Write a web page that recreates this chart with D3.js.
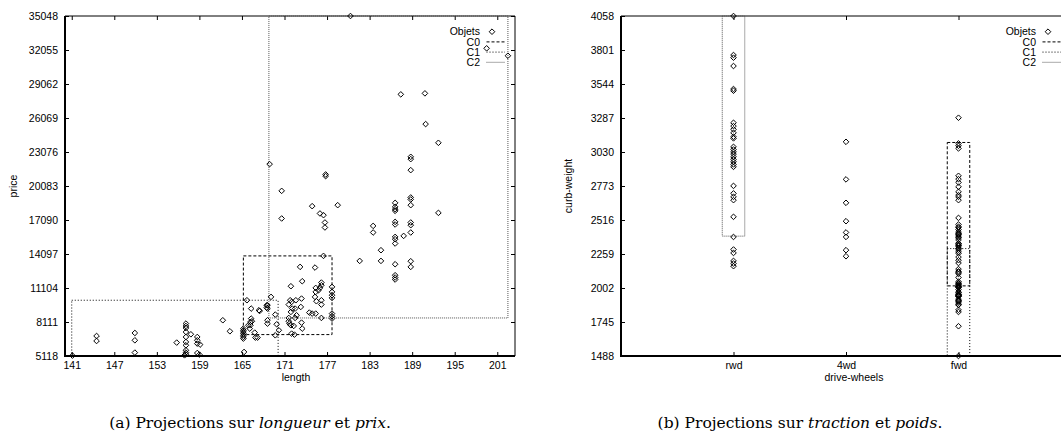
<!DOCTYPE html>
<html>
<head>
<meta charset="utf-8">
<script src="https://cdn.jsdelivr.net/npm/d3@7"></script>
<style>
	body { margin: 0; background: #fff; }
	svg { display: block; }
	.tick text, .label, .legend text { font-family: 'Liberation Sans', Arial, sans-serif; font-size: 10.5px; fill: #000; }
	.caption { font-family: 'DejaVu Serif', serif; font-size: 15.5px; fill: #000; }
</style>
</head>
<body>
<svg id="chart" width="1061" height="445"></svg>
<script>
// ticks
const lengthTicks = [141, 147, 153, 159, 165, 171, 177, 183, 189, 195, 201];
const priceTicks = [5118, 8111, 11104, 14097, 17090, 20083, 23076, 26069, 29062, 32055, 35048];
const weightTicks = [1488, 1745, 2002, 2259, 2516, 2773, 3030, 3287, 3544, 3801, 4058];
const driveWheels = ['rwd', '4wd', 'fwd'];
const legendLabels = ['Objets', 'C0', 'C1', 'C2'];

// (a) length / price
const lengthPrice = [
	[141.1, 5151], [144.5, 6880], [144.5, 6440], [149.9, 7145], [149.9, 6501], [149.9, 5418],
	[155.8, 6298], [156.9, 5180], [157.1, 7973], [157.1, 7761], [157.1, 7585], [157.1, 7233],
	[157.1, 6792], [157.1, 6352], [157.1, 6061], [157.1, 5620], [157.1, 5418], [157.1, 5268],
	[157.8, 7030], [158.7, 6792], [158.7, 6501], [158.7, 6210], [159.1, 6122], [158.7, 5382],
	[159.0, 5241], [162.3, 8264], [163.3, 7294],
	[165.7, 10026], [169.1, 10320], [171.8, 10026], [172.0, 9879], [172.6, 10026], [173.4, 10173],
	[175.5, 9938], [175.4, 11113], [175.4, 10760], [175.3, 10320], [176.2, 11583], [176.2, 11348],
	[176.0, 11113], [175.8, 10907], [176.2, 10026], [176.2, 9644], [177.7, 11201], [177.7, 10760],
	[177.7, 10467], [177.7, 10232], [177.7, 8851], [177.7, 8616], [177.7, 8411], [173.5, 11700],
	[171.9, 11260], [173.2, 12963], [175.3, 12904], [176.5, 13932], [166.3, 9292], [167.4, 9145],
	[168.6, 9585], [168.6, 9292], [171.6, 9644], [172.1, 9292], [172.5, 9292], [173.3, 9438],
	[169.7, 8763], [171.9, 8998], [172.7, 8704], [174.5, 8939], [174.9, 8851], [175.4, 8851],
	[166.3, 8411], [166.4, 8176], [166.2, 7823], [168.6, 8264], [168.6, 7970], [169.9, 7911],
	[171.6, 8469], [171.6, 8176], [171.7, 7970], [171.9, 7823], [172.3, 7764], [172.5, 8469],
	[173.4, 8058], [173.5, 7530], [176.2, 8469], [165.2, 7530], [165.2, 7380], [165.2, 7236],
	[165.2, 7090], [165.2, 6942], [165.2, 6800], [165.2, 6648], [165.9, 7823], [166.1, 7530],
	[166.8, 7177], [166.9, 6737], [167.2, 6737], [170.2, 7383], [169.7, 6942], [172.0, 7089],
	[172.4, 7001], [165.3, 5474], [166.2, 8114], [167.5, 9083], [168.5, 9585], [168.5, 9382],
	[168.9, 22009], [170.6, 19656], [170.6, 17224], [176.8, 21100], [176.8, 20950], [174.9, 18309],
	[176.0, 17665], [176.5, 17515], [176.7, 16872], [176.7, 16431], [178.5, 18396], [180.3, 35048],
	[181.6, 13489], [183.5, 16572], [183.5, 15991], [184.6, 14431], [184.6, 13489],
	[186.6, 18599], [186.6, 18246], [186.6, 18044], [186.6, 17894], [186.6, 16925], [186.6, 16696],
	[186.6, 15603], [186.6, 15400], [186.6, 15021], [186.6, 13197], [186.6, 12229], [186.6, 12026],
	[186.6, 11850], [187.4, 28150], [187.8, 15691],
	[188.8, 22652], [188.8, 22449], [188.8, 21480], [188.8, 19075], [188.8, 18899], [188.8, 18396],
	[188.8, 16872], [188.8, 16634], [188.8, 15991], [188.8, 13462], [188.8, 12960],
	[190.8, 28238], [190.9, 25533], [192.7, 23886], [192.7, 17718], [199.5, 32203], [202.5, 31550]
];

// (b) drive-wheels / curb-weight
const rwdWeights = [4058, 3763, 3743, 3680, 3506, 3493, 3251, 3226, 3201, 3175, 3145, 3133,
	3069, 3049, 3031, 3014, 2994, 2974, 2956, 2936, 2918, 2774, 2717, 2691, 2666, 2540, 2388,
	2293, 2267, 2207, 2187, 2167];
const fourWdWeights = [3107, 2823, 2646, 2507, 2422, 2388, 2288, 2242];
const fwdWeights = [3289, 3095, 3077, 3057, 2850, 2825, 2800, 2767, 2729, 2704, 2691, 2666,
	2532, 2482, 2465, 2458, 2443, 2425, 2414, 2410, 2405, 2395, 2385, 2380, 2365, 2340, 2337,
	2328, 2324, 2319, 2304, 2302, 2290, 2275, 2264, 2236, 2212, 2191, 2145, 2128, 2120, 2109,
	2081, 2050, 2040, 2037, 2028, 2024, 2017, 2015, 2010, 2008, 2004, 1989, 1971, 1967, 1956,
	1951, 1950, 1945, 1944, 1940, 1938, 1918, 1909, 1905, 1900, 1889, 1876, 1874, 1837, 1821,
	1713, 1488];

// cluster boxes
const clustersA = [
	{ name: 'C0', length: [165.2, 177.7], price: [7003, 13929] },
	{ name: 'C1', length: [141.0, 170.1], price: [5118, 10026] },
	{ name: 'C2', length: [168.8, 202.5], price: [8466, 35048] }
];
const clustersB = [
	{ name: 'C2', wheel: 'rwd', weight: [2394, 4058] },
	{ name: 'C0', wheel: 'fwd', weight: [2018, 3102] },
	{ name: 'C1', wheel: 'fwd', weight: [1488, 2300] }
];

const clusterStyle = {
	C0: { dash: '3,2', color: '#000' },
	C1: { dash: '1,2', color: '#000' },
	C2: { dash: '1,1', color: '#555' }
};

const diamond = 'M0,-2.8L2.8,0L0,2.8L-2.8,0Z';

class ProjectionPanel {

	/**
	 * @param {d3.selection} svg
	 * @param {Object} box
	 */
	constructor(svg, box) {
		this.g = svg.append('g');
		this.box = box;
	}

	/**
	 * @param {Object} state
	 */
	draw(state) {
		const b = this.box;
		this.x = state.x.range([b.left, b.right]);
		this.y = state.y.range([b.bottom, b.top]);

		this._drawAxes(state);
		this._drawBoxes(state.boxes);
		this._drawPoints(state.points);
		this._drawLegend();
		this._drawLabels(state);
	}

	_drawAxes(state) {
		const b = this.box;
		const g = this.g;

		g.append('g')
			.attr('transform', `translate(0,${b.bottom})`)
			.call(d3.axisBottom(this.x).tickValues(state.xTicks).tickSize(-4).tickPadding(6)
				.tickFormat(state.xFormat || d3.format('d')));
		g.append('g')
			.attr('transform', `translate(0,${b.top})`)
			.call(d3.axisTop(this.x).tickValues(state.xTicks).tickSize(-4).tickFormat(''));
		g.append('g')
			.attr('transform', `translate(${b.left},0)`)
			.call(d3.axisLeft(this.y).tickValues(state.yTicks).tickSize(-4).tickPadding(7)
				.tickFormat(d3.format('d')));
		g.append('g')
			.attr('transform', `translate(${b.right},0)`)
			.call(d3.axisRight(this.y).tickValues(state.yTicks).tickSize(-4).tickFormat(''));

		g.selectAll('.domain').remove();
		g.selectAll('.tick line').attr('stroke', '#000');

		g.append('path')
			.attr('d', `M${b.left},${b.top}H${b.right}V${b.bottom}`)
			.attr('fill', 'none').attr('stroke', '#000').attr('stroke-width', 1);
		g.append('path')
			.attr('d', `M${b.left},${b.top}V${b.bottom}H${b.right}`)
			.attr('fill', 'none').attr('stroke', '#000').attr('stroke-width', 2);
	}

	_drawBoxes(boxes) {
		this.g.append('g')
			.selectAll('rect')
			.data(boxes)
			.join('rect')
			.attr('x', d => this.x(d.x0))
			.attr('y', d => this.y(d.y1))
			.attr('width', d => this.x(d.x1) - this.x(d.x0))
			.attr('height', d => this.y(d.y0) - this.y(d.y1))
			.attr('fill', 'none')
			.attr('stroke', d => clusterStyle[d.name].color)
			.attr('stroke-dasharray', d => clusterStyle[d.name].dash)
			.attr('stroke-width', 1);
	}

	_drawPoints(points) {
		this.g.append('g')
			.selectAll('path')
			.data(points)
			.join('path')
			.attr('d', diamond)
			.attr('transform', d => `translate(${this.x(d[0])},${this.y(d[1])})`)
			.attr('fill', 'none')
			.attr('stroke', '#000')
			.attr('stroke-width', 1);
	}

	_drawLegend() {
		const right = this.box.right;
		const rows = this.g.append('g').attr('class', 'legend')
			.selectAll('g')
			.data(legendLabels)
			.join('g')
			.attr('transform', (d, i) => `translate(0,${31.7 + i * 10.2})`);

		rows.append('text')
			.attr('x', right - 35)
			.attr('dy', '0.35em')
			.attr('text-anchor', 'end')
			.text(d => d);

		rows.filter(d => d !== 'Objets').append('line')
			.attr('x1', right - 28.5)
			.attr('x2', right - 10)
			.attr('stroke', d => clusterStyle[d].color)
			.attr('stroke-dasharray', d => clusterStyle[d].dash);

		rows.filter(d => d === 'Objets').append('path')
			.attr('d', diamond)
			.attr('transform', `translate(${right - 23},0)`)
			.attr('fill', 'none')
			.attr('stroke', '#000');
	}

	_drawLabels(state) {
		this.g.append('text')
			.attr('class', 'label')
			.attr('transform', `translate(${state.yLabelX},186) rotate(-90)`)
			.attr('text-anchor', 'middle')
			.attr('dy', '0.35em')
			.text(state.yLabel);
		this.g.append('text')
			.attr('class', 'label')
			.attr('x', state.xLabelX)
			.attr('y', 381)
			.attr('text-anchor', 'middle')
			.text(state.xLabel);
	}
}

const svg = d3.select('#chart');

new ProjectionPanel(svg, { left: 65, right: 515, top: 16, bottom: 356 }).draw({
	x: d3.scaleLinear().domain([140.05, 203.5]),
	y: d3.scaleLinear().domain([5118, 35048]),
	xTicks: lengthTicks,
	yTicks: priceTicks,
	points: lengthPrice,
	boxes: clustersA.map(c => ({ name: c.name, x0: c.length[0], x1: c.length[1], y0: c.price[0], y1: c.price[1] })),
	xLabel: 'length', xLabelX: 296,
	yLabel: 'price', yLabelX: 13
});

const wheelIndex = d3.scaleOrdinal().domain(driveWheels).range([0, 1, 2]);
const weightPoints = [].concat(
	rwdWeights.map(w => [wheelIndex('rwd'), w]),
	fourWdWeights.map(w => [wheelIndex('4wd'), w]),
	fwdWeights.map(w => [wheelIndex('fwd'), w])
);

new ProjectionPanel(svg, { left: 621, right: 1071, top: 16, bottom: 356 }).draw({
	x: d3.scaleLinear().domain([-1, 3]),
	y: d3.scaleLinear().domain([1488, 4058]),
	xTicks: driveWheels.map(wheelIndex),
	xFormat: i => driveWheels[i],
	yTicks: weightTicks,
	points: weightPoints,
	boxes: clustersB.map(c => ({
		name: c.name,
		x0: wheelIndex(c.wheel) - 0.1, x1: wheelIndex(c.wheel) + 0.1,
		y0: c.weight[0], y1: c.weight[1]
	})),
	xLabel: 'drive-wheels', xLabelX: 854,
	yLabel: 'curb-weight', yLabelX: 568
});

// captions
const captions = [
	{ x: 250, parts: [['(a) Projections sur ', 'normal'], ['longueur', 'italic'], [' et ', 'normal'], ['prix', 'italic'], ['.', 'normal']] },
	{ x: 800, parts: [['(b) Projections sur ', 'normal'], ['traction', 'italic'], [' et ', 'normal'], ['poids', 'italic'], ['.', 'normal']] }
];

svg.append('g')
	.selectAll('text')
	.data(captions)
	.join('text')
	.attr('class', 'caption')
	.attr('x', d => d.x)
	.attr('y', 428)
	.attr('text-anchor', 'middle')
	.selectAll('tspan')
	.data(d => d.parts)
	.join('tspan')
	.attr('font-style', d => d[1])
	.text(d => d[0]);
</script>
</body>
</html>
